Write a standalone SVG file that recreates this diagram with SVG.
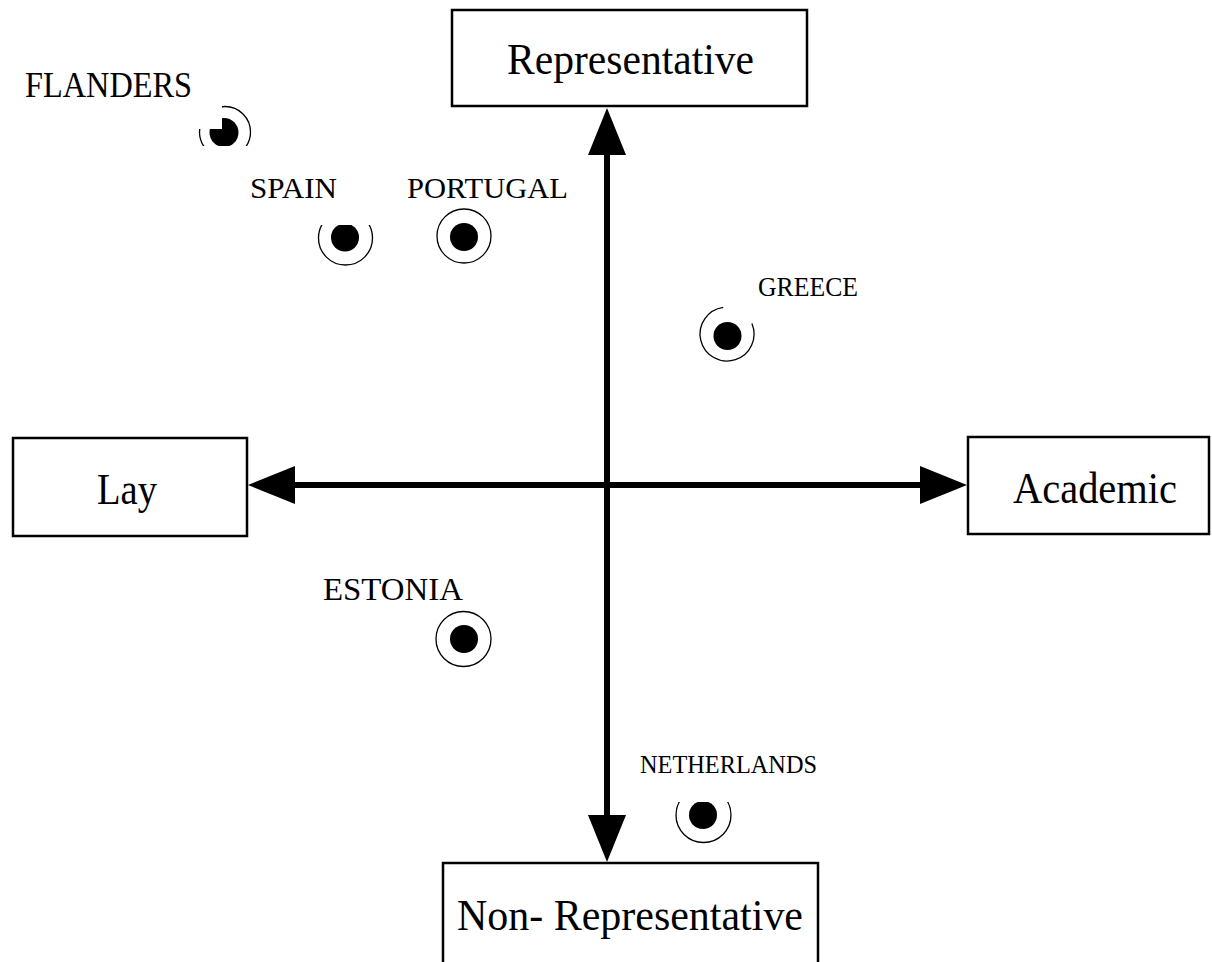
<svg xmlns="http://www.w3.org/2000/svg" width="1212" height="962" viewBox="0 0 1212 962">
  <style>
    .box { fill: #ffffff; stroke: #000000; stroke-width: 2.5; }
    .big { font-family: "Liberation Serif", "Times New Roman", serif; font-size: 45px; fill: #000000; }
    .lbl { font-family: "Liberation Serif", "Times New Roman", serif; fill: #000000; }
    .axis { stroke: #000000; stroke-width: 6; fill: none; }
    .ring { fill: none; stroke: #000000; stroke-width: 1.3; }
    .dot { fill: #000000; }
  </style>
  <defs>
    <marker id="head" viewBox="0 -19 47 38" refX="0" refY="0" markerWidth="47" markerHeight="38"
            markerUnits="userSpaceOnUse" orient="auto-start-reverse" overflow="visible">
      <path d="M0,-19 L47,0 L0,19 Z" fill="#000000"/>
    </marker>
    <clipPath id="clip-flanders">
      <polygon points="222,95 262,95 262,146 190,146 190,129 222,129"/>
    </clipPath>
    <clipPath id="clip-spain">
      <rect x="300" y="225" width="90" height="60"/>
    </clipPath>
    <clipPath id="clip-netherlands">
      <rect x="660" y="802" width="90" height="60"/>
    </clipPath>
  </defs>

  <rect width="1212" height="962" fill="#ffffff"/>

  <!-- axes -->
  <g id="connectors">
    <line class="axis" x1="607" y1="155" x2="607" y2="815" marker-start="url(#head)" marker-end="url(#head)"/>
    <line class="axis" x1="295" y1="485" x2="920" y2="485" marker-start="url(#head)" marker-end="url(#head)"/>
  </g>

  <!-- pole boxes -->
  <g id="representative">
    <rect class="box" x="452" y="10" width="355" height="96"/>
    <text class="big" x="507" y="74" textLength="247" lengthAdjust="spacingAndGlyphs">Representative</text>
  </g>
  <g id="lay">
    <rect class="box" x="13" y="438" width="234" height="98"/>
    <text class="big" x="97" y="504" textLength="60" lengthAdjust="spacingAndGlyphs">Lay</text>
  </g>
  <g id="academic">
    <rect class="box" x="968" y="437" width="241" height="97"/>
    <text class="big" x="1013" y="503" textLength="164" lengthAdjust="spacingAndGlyphs">Academic</text>
  </g>
  <g id="non-representative">
    <rect class="box" x="443" y="863" width="375" height="130"/>
    <text class="big" x="457" y="930" textLength="346" lengthAdjust="spacingAndGlyphs">Non- Representative</text>
  </g>

  <!-- countries -->
  <g id="flanders">
    <text class="lbl" x="25" y="97" font-size="35" textLength="167" lengthAdjust="spacingAndGlyphs">FLANDERS</text>
    <g clip-path="url(#clip-flanders)">
      <circle class="ring" cx="225" cy="132" r="25.5"/>
      <circle class="dot" cx="224" cy="132.5" r="14.5"/>
    </g>
  </g>
  <g id="spain">
    <text class="lbl" x="250" y="198" font-size="30" textLength="87" lengthAdjust="spacingAndGlyphs">SPAIN</text>
    <g clip-path="url(#clip-spain)">
      <circle class="ring" cx="345.5" cy="238" r="27"/>
      <circle class="dot" cx="345" cy="237.5" r="14"/>
    </g>
  </g>
  <g id="portugal">
    <text class="lbl" x="407" y="198" font-size="30" textLength="161" lengthAdjust="spacingAndGlyphs">PORTUGAL</text>
    <circle class="ring" cx="464" cy="236" r="27"/>
    <circle class="dot" cx="464" cy="237" r="14"/>
  </g>
  <g id="greece">
    <text class="lbl" x="758" y="296" font-size="27" textLength="100" lengthAdjust="spacingAndGlyphs">GREECE</text>
    <path class="ring" d="M751.9,323.5 A27,27 0 1 1 723.2,307.3"/>
    <circle class="dot" cx="727.5" cy="336" r="14"/>
  </g>
  <g id="estonia">
    <text class="lbl" x="323" y="600" font-size="31" textLength="140" lengthAdjust="spacingAndGlyphs">ESTONIA</text>
    <circle class="ring" cx="463.5" cy="639" r="27.5"/>
    <circle class="dot" cx="464" cy="639" r="14"/>
  </g>
  <g id="netherlands">
    <text class="lbl" x="640" y="773" font-size="25" textLength="177" lengthAdjust="spacingAndGlyphs">NETHERLANDS</text>
    <g clip-path="url(#clip-netherlands)">
      <circle class="ring" cx="703.5" cy="815" r="27.5"/>
      <circle class="dot" cx="703" cy="815" r="14"/>
    </g>
  </g>
</svg>
